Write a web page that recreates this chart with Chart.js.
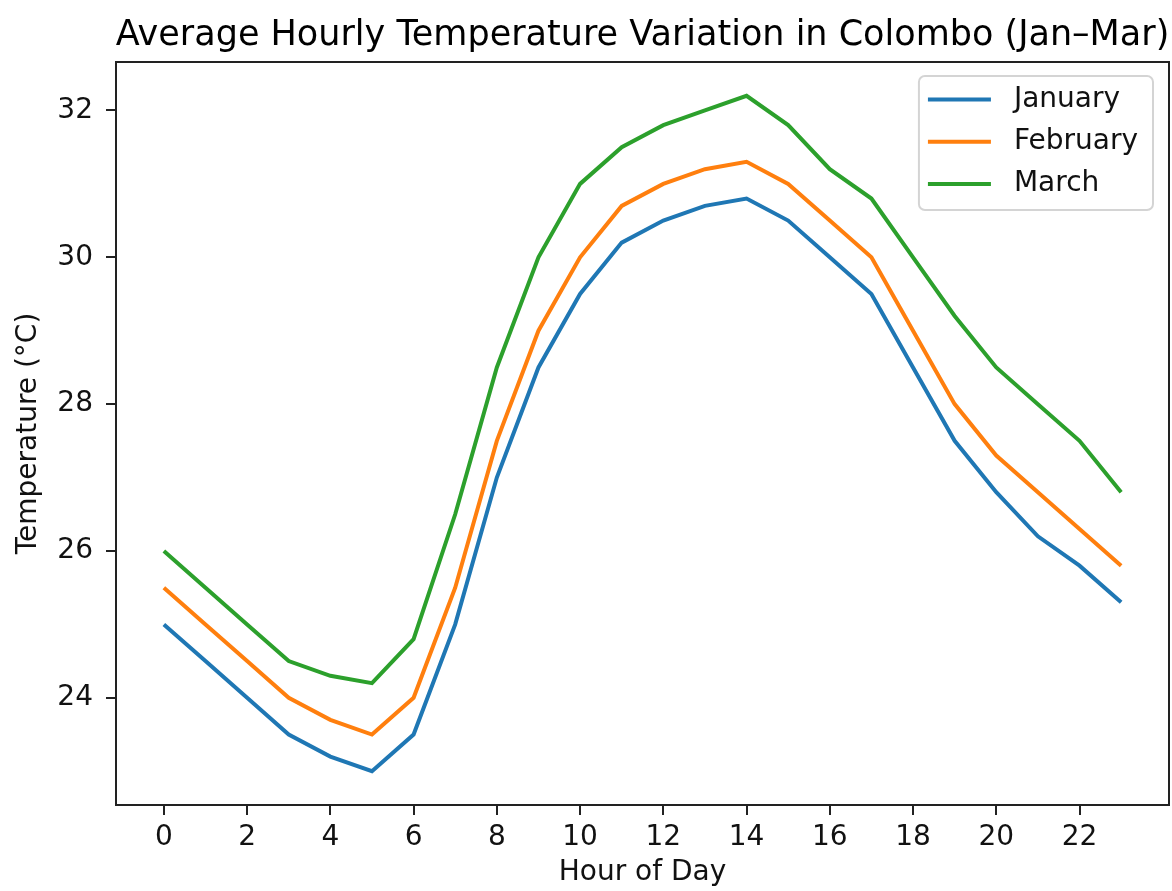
<!DOCTYPE html>
<html>
<head>
<meta charset="utf-8">
<title>Average Hourly Temperature Variation in Colombo (Jan–Mar)</title>
<script src="https://cdn.jsdelivr.net/npm/chart.js@4"></script>
<style>
  html, body { margin: 0; padding: 0; background: #fff; }
  #chart { display: block; }
</style>
</head>
<body>
<canvas id="chart" width="1172" height="891"></canvas>
<script>
// ============================
// Data
// ============================
const hours = [0, 1, 2, 3, 4, 5, 6, 7, 8, 9, 10, 11, 12, 13, 14, 15, 16, 17, 18, 19, 20, 21, 22, 23];

const january  = [25.0, 24.5, 24.0, 23.5, 23.2, 23.0, 23.5, 25.0, 27.0, 28.5, 29.5, 30.2, 30.5, 30.7, 30.8, 30.5, 30.0, 29.5, 28.5, 27.5, 26.8, 26.2, 25.8, 25.3];
const february = [25.5, 25.0, 24.5, 24.0, 23.7, 23.5, 24.0, 25.5, 27.5, 29.0, 30.0, 30.7, 31.0, 31.2, 31.3, 31.0, 30.5, 30.0, 29.0, 28.0, 27.3, 26.8, 26.3, 25.8];
const march    = [26.0, 25.5, 25.0, 24.5, 24.3, 24.2, 24.8, 26.5, 28.5, 30.0, 31.0, 31.5, 31.8, 32.0, 32.2, 31.8, 31.2, 30.8, 30.0, 29.2, 28.5, 28.0, 27.5, 26.8];

const seriesNames = ["January", "February", "March"];
const xTicks = [0, 2, 4, 6, 8, 10, 12, 14, 16, 18, 20, 22];
const yTicks = [24, 26, 28, 30, 32];
const TITLE = "Average Hourly Temperature Variation in Colombo (Jan–Mar)";

const FONT = "'DejaVu Sans', 'Liberation Sans', sans-serif";
const COLORS = ["#1f77b4", "#ff7f0e", "#2ca02c"];

function toPoints(values) {
  return hours.map((h, i) => ({ x: h, y: values[i] }));
}

// ============================
// Frame: title over the plot, top + right spines, legend inside
// ============================
const framePlugin = {
  id: "frame",
  afterDatasetsDraw(chart) {
    const ctx = chart.ctx;
    const a = chart.chartArea;
    ctx.save();
    ctx.strokeStyle = "#222";
    ctx.lineWidth = 2;
    ctx.beginPath();
    ctx.moveTo(a.left, a.top);
    ctx.lineTo(a.right, a.top);
    ctx.lineTo(a.right, a.bottom);
    ctx.stroke();

    // title, centred on the axes like matplotlib does
    ctx.font = "35px " + FONT;
    ctx.fillStyle = "#000";
    ctx.textAlign = "center";
    ctx.textBaseline = "alphabetic";
    ctx.fillText(TITLE, (a.left + a.right) / 2, a.top - 17);
    ctx.restore();
  },
  afterDraw(chart) {
    const ctx = chart.ctx;
    const a = chart.chartArea;
    const sets = chart.data.datasets;
    ctx.save();
    ctx.font = "28px " + FONT;
    const maxW = Math.max(...sets.map(d => ctx.measureText(d.label).width));
    const w = 95 + maxW + 15;
    const h = 134;
    const x0 = a.right - 16 - w;
    const y0 = a.top + 14;

    // box
    ctx.beginPath();
    ctx.roundRect(x0, y0, w, h, 6);
    ctx.fillStyle = "rgba(255,255,255,0.8)";
    ctx.fill();
    ctx.strokeStyle = "#d4d4d4";
    ctx.lineWidth = 2;
    ctx.stroke();

    // entries
    sets.forEach((d, i) => {
      const cy = y0 + 23.5 + i * 42.3;
      ctx.strokeStyle = d.borderColor;
      ctx.lineWidth = 4;
      ctx.beginPath();
      ctx.moveTo(x0 + 9, cy);
      ctx.lineTo(x0 + 72, cy);
      ctx.stroke();
      ctx.fillStyle = "#111";
      ctx.textAlign = "left";
      ctx.textBaseline = "middle";
      ctx.fillText(d.label, x0 + 95, cy);
    });
    ctx.restore();
  }
};

// ============================
// Chart
// ============================
new Chart(document.getElementById("chart"), {
  type: "line",
  data: {
    datasets: [january, february, march].map((vals, i) => ({
      label: seriesNames[i],
      data: toPoints(vals),
      borderColor: COLORS[i],
      backgroundColor: COLORS[i],
      borderWidth: 4,
      pointRadius: 0,
      tension: 0,
      fill: false
    }))
  },
  options: {
    responsive: false,
    animation: false,
    layout: { padding: { left: 0, right: 3, top: 62, bottom: 0 } },
    plugins: {
      legend: { display: false },
      tooltip: { enabled: false },
      title: { display: false }
    },
    scales: {
      x: {
        type: "linear",
        min: -1.15,
        max: 24.15,
        afterBuildTicks: s => { s.ticks = xTicks.map(v => ({ value: v })); },
        afterFit: s => { s.height = 86; },
        grid: { display: true, drawOnChartArea: false, drawTicks: true, tickLength: 10, color: "#222", lineWidth: 2 },
        border: { display: true, color: "#222", width: 2 },
        ticks: { color: "#111", font: { family: FONT, size: 28 }, padding: 6, autoSkip: false, maxRotation: 0 },
        title: {
          display: true,
          text: "Hour of Day",
          color: "#111",
          font: { family: FONT, size: 28, lineHeight: 1.2 },
          padding: { top: 0, bottom: 1 }
        }
      },
      y: {
        type: "linear",
        min: 22.54,
        max: 32.66,
        afterBuildTicks: s => { s.ticks = yTicks.map(v => ({ value: v })); },
        afterFit: s => { s.width = 116; },
        grid: { display: true, drawOnChartArea: false, drawTicks: true, tickLength: 10, color: "#222", lineWidth: 2 },
        border: { display: true, color: "#222", width: 2 },
        ticks: { color: "#111", font: { family: FONT, size: 28 }, padding: 13 },
        title: {
          display: true,
          text: "Temperature (°C)",
          color: "#111",
          font: { family: FONT, size: 28, lineHeight: 1.2 },
          padding: { top: 11.5, bottom: 0 }
        }
      }
    }
  },
  plugins: [framePlugin]
});
</script>
</body>
</html>
